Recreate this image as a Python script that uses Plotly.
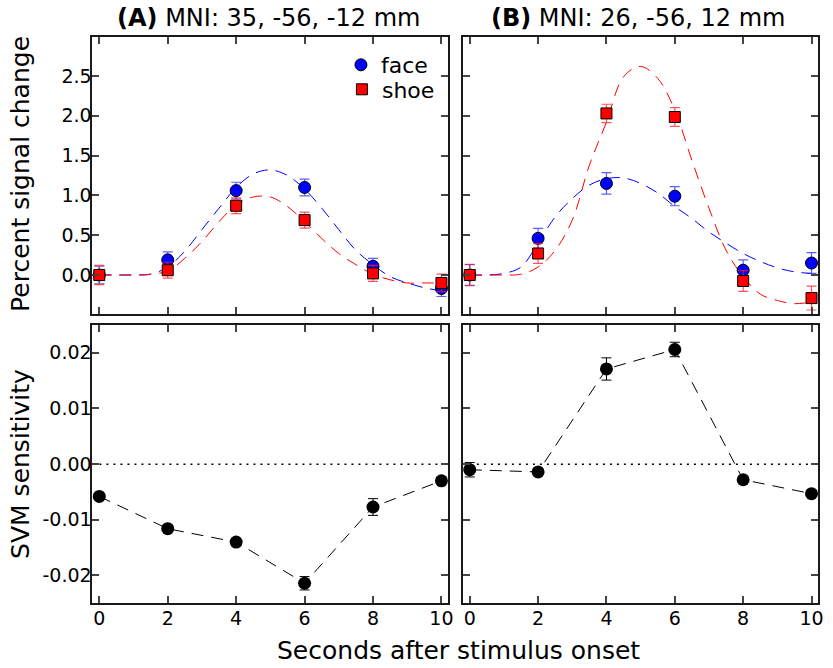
import plotly.graph_objects as go

# ---------------- data ----------------
t = [0, 2, 4, 6, 8, 10]

# Panel A (MNI 35,-56,-12)
a_face = [0.0, 0.19, 1.06, 1.10, 0.11, -0.17]
a_face_err = [0.11, 0.10, 0.105, 0.105, 0.10, 0.10]
a_shoe = [0.0, 0.06, 0.87, 0.69, 0.02, -0.10]
a_shoe_err = [0.12, 0.10, 0.10, 0.10, 0.10, 0.11]

# Panel B (MNI 26,-56,12)
b_face = [0.0, 0.46, 1.15, 0.99, 0.06, 0.15]
b_face_err = [0.13, 0.125, 0.135, 0.12, 0.13, 0.13]
b_shoe = [0.0, 0.27, 2.03, 1.985, -0.075, -0.29]
b_shoe_err = [0.135, 0.125, 0.115, 0.117, 0.13, 0.15]

# fitted curves
fit_t = [0, 0.5, 1, 1.5, 2, 2.5, 3, 3.5, 4, 4.5, 5, 5.5, 6, 6.5, 7, 7.5, 8, 8.5, 9, 9.5, 10]
a_face_fit = [0, 0, 0, 0.01, 0.10, 0.30, 0.57, 0.84, 1.10, 1.27, 1.32, 1.25, 1.08, 0.84, 0.57, 0.31, 0.13, -0.02, -0.10, -0.16, -0.20]
a_shoe_fit = [0, 0, 0, 0.01, 0.05, 0.21, 0.42, 0.67, 0.88, 0.98, 0.98, 0.86, 0.67, 0.46, 0.27, 0.13, 0.01, -0.06, -0.10, -0.10, -0.10]
b_face_fit = [0, 0, 0.02, 0.10, 0.40, 0.73, 0.96, 1.13, 1.21, 1.22, 1.15, 1.03, 0.86, 0.71, 0.54, 0.40, 0.27, 0.17, 0.09, 0.04, 0.02]
b_shoe_fit = [0, 0, 0, 0.01, 0.10, 0.31, 0.69, 1.38, 1.92, 2.49, 2.62, 2.47, 2.07, 1.44, 0.84, 0.31, -0.02, -0.24, -0.32, -0.36, -0.34]

# SVM sensitivities
a_svm = [-0.0058, -0.0116, -0.0140, -0.0214, -0.0077, -0.0030]
a_svm_err = [0.0003, 0.0003, 0.0003, 0.0012, 0.0015, 0.0003]
b_svm = [-0.0010, -0.0014, 0.0171, 0.0206, -0.0028, -0.0053]
b_svm_err = [0.0013, 0.0003, 0.0020, 0.0013, 0.0003, 0.0005]

psc_ticks = [0.0, 0.5, 1.0, 1.5, 2.0, 2.5]
psc_ticktext = ["0.0", "0.5", "1.0", "1.5", "2.0", "2.5"]
svm_ticks = [-0.02, -0.01, 0.0, 0.01, 0.02]
svm_ticktext = ["-0.02", "-0.01", "0.00", "0.01", "0.02"]
x_ticks = [0, 2, 4, 6, 8, 10]

# ---------------- styling ----------------
FONT = "DejaVu Sans"
BLUE = "#0000ff"
RED = "#ff0000"
BLUE_ERR = "rgba(40,40,255,0.75)"
RED_ERR = "rgba(255,30,30,0.75)"
DASH = "12px,8px"
W, H = 833, 668

fig = go.Figure()

def add_panel(xa, ya, face, face_err, shoe, shoe_err, face_fit, shoe_fit, legend):
    fig.add_trace(go.Scatter(x=fit_t, y=face_fit, mode="lines", line=dict(color=BLUE, width=1, dash=DASH, shape="spline"),
                             xaxis=xa, yaxis=ya, showlegend=False, hoverinfo="skip"))
    fig.add_trace(go.Scatter(x=fit_t, y=shoe_fit, mode="lines", line=dict(color=RED, width=1, dash=DASH, shape="spline"),
                             xaxis=xa, yaxis=ya, showlegend=False, hoverinfo="skip"))
    fig.add_trace(go.Scatter(x=t, y=face, mode="markers", name="face", legend="legend",
                             marker=dict(symbol="circle", size=12, color=BLUE, line=dict(color="black", width=1)),
                             error_y=dict(type="data", array=face_err, color=BLUE_ERR, thickness=1.2, width=5),
                             xaxis=xa, yaxis=ya, showlegend=legend))
    fig.add_trace(go.Scatter(x=t, y=shoe, mode="markers", name="shoe", legend="legend2",
                             marker=dict(symbol="square", size=11, color=RED, line=dict(color="black", width=1)),
                             error_y=dict(type="data", array=shoe_err, color=RED_ERR, thickness=1.2, width=5),
                             xaxis=xa, yaxis=ya, showlegend=legend))

add_panel("x", "y", a_face, a_face_err, a_shoe, a_shoe_err, a_face_fit, a_shoe_fit, True)
add_panel("x2", "y2", b_face, b_face_err, b_shoe, b_shoe_err, b_face_fit, b_shoe_fit, False)

for xa, ya, vals, errs in [("x3", "y3", a_svm, a_svm_err), ("x4", "y4", b_svm, b_svm_err)]:
    fig.add_trace(go.Scatter(x=t, y=vals, mode="lines+markers",
                             line=dict(color="black", width=1, dash=DASH),
                             marker=dict(symbol="circle", size=13, color="black"),
                             error_y=dict(type="data", array=errs, color="black", thickness=1, width=5),
                             xaxis=xa, yaxis=ya, showlegend=False))

# zero reference lines (dotted)
for xr_, yr_ in [("x3", "y3"), ("x4", "y4")]:
    fig.add_shape(type="line", xref=f"{xr_} domain", yref=yr_, x0=0, x1=1, y0=0, y1=0,
                  line=dict(color="black", width=1.5, dash="2px,5px"), layer="below")

xd_left = [93 / W, 451 / W]
xd_right = [465.7 / W, 823.3 / W]
yd_top = [1 - 314 / H, 1 - 37 / H]
yd_bot = [1 - 603.3 / H, 1 - 325 / H]

axis_common = dict(showline=True, linecolor="#1a1a1a", linewidth=2, mirror="ticks",
                   ticks="inside", ticklen=7, tickwidth=1.5, tickcolor="#444",
                   showgrid=False, zeroline=False,
                   tickfont=dict(family=FONT, size=19, color="black"))
x_common = dict(ticklabelstandoff=-3, **axis_common)
y_common = dict(ticklabelstandoff=-5, **axis_common)

xr = [-0.2, 10.2]
layout_axes = dict(
    xaxis=dict(domain=xd_left, anchor="y", range=xr, tickvals=x_ticks, showticklabels=False, **x_common),
    yaxis=dict(domain=yd_top, anchor="x", range=[-0.49, 2.99], tickvals=psc_ticks, ticktext=psc_ticktext, **y_common),
    xaxis2=dict(domain=xd_right, anchor="y2", range=xr, tickvals=x_ticks, showticklabels=False, **x_common),
    yaxis2=dict(domain=yd_top, anchor="x2", range=[-0.49, 2.99], tickvals=psc_ticks, showticklabels=False, **y_common),
    xaxis3=dict(domain=xd_left, anchor="y3", range=xr, tickvals=x_ticks, **x_common),
    yaxis3=dict(domain=yd_bot, anchor="x3", range=[-0.025, 0.025], tickvals=svm_ticks, ticktext=svm_ticktext, **y_common),
    xaxis4=dict(domain=xd_right, anchor="y4", range=xr, tickvals=x_ticks, **x_common),
    yaxis4=dict(domain=yd_bot, anchor="x4", range=[-0.025, 0.025], tickvals=svm_ticks, showticklabels=False, **y_common),
)

annotations = [
    dict(text="<b>(A)</b> MNI: 35, -56, -12 mm", x=270.5 / W, y=1 - 18 / H, xref="paper", yref="paper",
         xanchor="center", yanchor="middle", showarrow=False, font=dict(family=FONT, size=24, color="black")),
    dict(text="<b>(B)</b> MNI: 26, -56, 12 mm", x=642 / W, y=1 - 18 / H, xref="paper", yref="paper",
         xanchor="center", yanchor="middle", showarrow=False, font=dict(family=FONT, size=24, color="black")),
    dict(text="Percent signal change", x=20 / W, y=1 - 174 / H, xref="paper", yref="paper", textangle=-90,
         xanchor="center", yanchor="middle", showarrow=False, font=dict(family=FONT, size=25, color="black")),
    dict(text="SVM sensitivity", x=20 / W, y=1 - 464 / H, xref="paper", yref="paper", textangle=-90,
         xanchor="center", yanchor="middle", showarrow=False, font=dict(family=FONT, size=25, color="black")),
    dict(text="Seconds after stimulus onset", x=461.5 / W, y=1 - 650 / H, xref="paper", yref="paper",
         xanchor="center", yanchor="middle", showarrow=False, font=dict(family=FONT, size=25, color="black")),
]

legend_style = dict(xanchor="left", yanchor="top", bgcolor="rgba(0,0,0,0)",
                    font=dict(family=FONT, size=22, color="black"), itemsizing="trace")

fig.update_layout(
    width=W, height=H,
    margin=dict(l=0, r=0, t=0, b=0),
    paper_bgcolor="white", plot_bgcolor="white",
    font=dict(family=FONT, color="black"),
    annotations=annotations,
    legend=dict(x=343 / W, y=1 - 44 / H, **legend_style),
    legend2=dict(x=344 / W, y=1 - 68.5 / H, **legend_style),
    **layout_axes,
)

fig.write_html("out.html")
